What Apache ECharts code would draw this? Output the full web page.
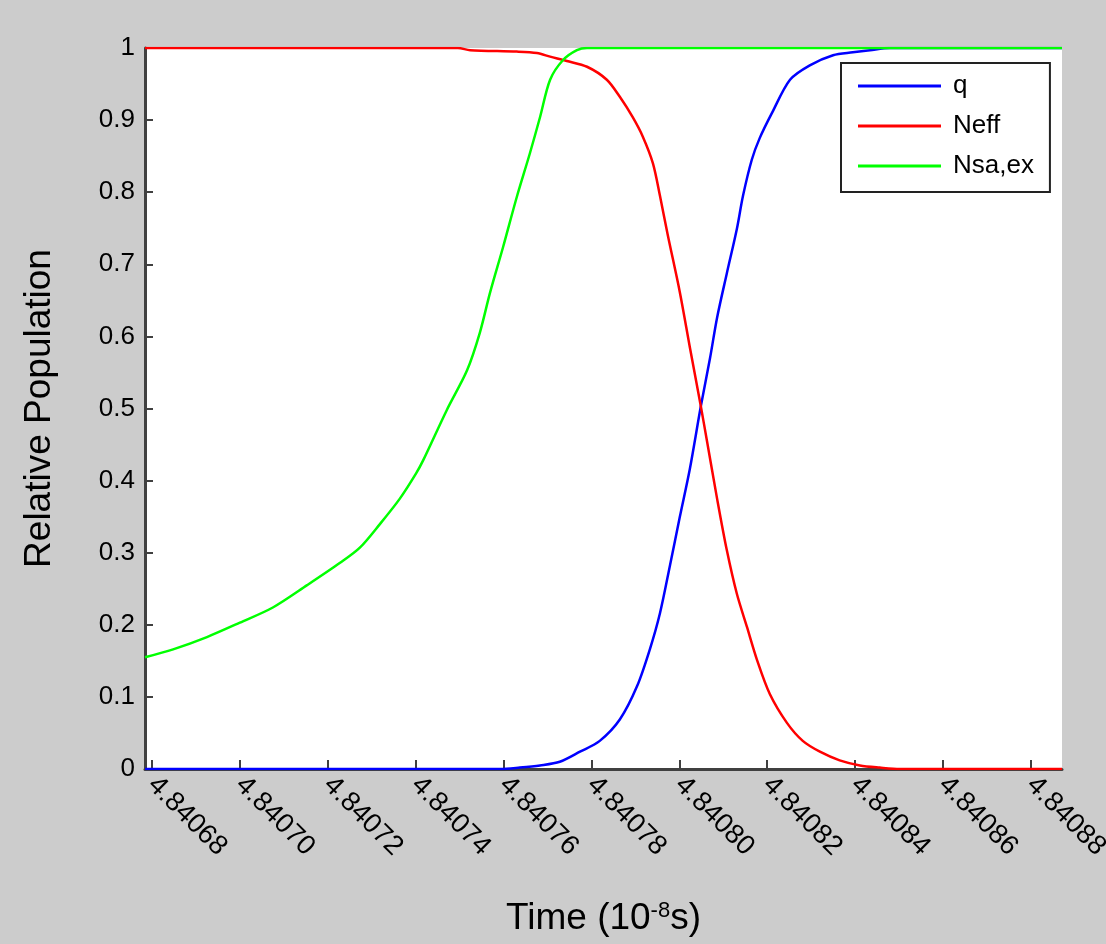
<!DOCTYPE html>
<html>
<head>
<meta charset="utf-8">
<script src="https://cdn.jsdelivr.net/npm/echarts@6/dist/echarts.min.js"></script>
<style>
html,body{margin:0;padding:0;background:#cccccc;}
#chart{width:1106px;height:944px;}
</style>
</head>
<body>
<div id="chart"></div>
<script>
// Time axis tick labels (units of 10^-8 s)
var timeTicks = [4.84068, 4.84070, 4.84072, 4.84074, 4.84076, 4.84078, 4.84080, 4.84082, 4.84084, 4.84086, 4.84088];
var timeMin = 4.8406784;
var timeMax = 4.8408871;

var seriesNames = ['q', 'Neff', 'Nsa,ex'];

// q (blue)
var tQ = [4.8406784, 4.8407592, 4.8407637, 4.8407683, 4.8407728, 4.8407774, 4.8407819, 4.8407865, 4.8407904, 4.8407933, 4.8407956, 4.8407979, 4.8408001, 4.8408024, 4.8408049, 4.8408070, 4.8408086, 4.8408108, 4.8408131, 4.8408145, 4.8408165, 4.8408183, 4.8408211, 4.8408252, 4.8408297, 4.8408350, 4.8408395, 4.8408434, 4.8408479, 4.8408871];
var vQ = [0, 0, 0.002, 0.005, 0.010, 0.024, 0.039, 0.069, 0.115, 0.166, 0.216, 0.283, 0.349, 0.416, 0.503, 0.570, 0.626, 0.687, 0.749, 0.795, 0.845, 0.875, 0.910, 0.956, 0.976, 0.990, 0.994, 0.997, 1.0, 1.0];

// Neff (red)
var tNeff = [4.8406784, 4.8407496, 4.8407524, 4.8407630, 4.8407676, 4.8407706, 4.8407744, 4.8407790, 4.8407835, 4.8407865, 4.8407894, 4.8407917, 4.8407940, 4.8407956, 4.8407974, 4.8408001, 4.8408024, 4.8408049, 4.8408063, 4.8408086, 4.8408108, 4.8408131, 4.8408154, 4.8408177, 4.8408206, 4.8408245, 4.8408281, 4.8408320, 4.8408365, 4.8408411, 4.8408456, 4.8408502, 4.8408871];
var vNeff = [1, 1, 0.997, 0.995, 0.993, 0.988, 0.982, 0.974, 0.956, 0.932, 0.904, 0.877, 0.840, 0.795, 0.740, 0.662, 0.585, 0.503, 0.455, 0.375, 0.304, 0.243, 0.197, 0.151, 0.104, 0.064, 0.039, 0.024, 0.012, 0.005, 0.002, 0, 0];

// Nsa,ex (green)
var tNsa = [4.8406784, 4.8406848, 4.8406925, 4.8407000, 4.8407075, 4.8407153, 4.8407228, 4.8407273, 4.8407319, 4.8407364, 4.8407401, 4.8407417, 4.8407471, 4.8407517, 4.8407546, 4.8407569, 4.8407599, 4.8407630, 4.8407660, 4.8407683, 4.8407706, 4.8407735, 4.8407767, 4.8407790, 4.8408871];
var vNsa = [0.155, 0.166, 0.183, 0.203, 0.224, 0.255, 0.286, 0.307, 0.340, 0.375, 0.410, 0.428, 0.498, 0.553, 0.605, 0.660, 0.724, 0.793, 0.854, 0.904, 0.956, 0.983, 0.997, 1.0, 1.0];

function pairs(ts, vs) { return ts.map(function (t, i) { return [t, vs[i]]; }); }

var FONT = 'Liberation Sans, Arial, Helvetica, sans-serif';
var chart = echarts.init(document.getElementById('chart'), null, {renderer: 'canvas'});

var lineSeries = function (name, color, data) {
  return {
    name: name, type: 'line', data: data, showSymbol: false, symbol: 'none',
    smooth: 0.3, animation: false,
    lineStyle: {color: color, width: 2.5, join: 'round'}, itemStyle: {color: color}
  };
};

chart.setOption({
  backgroundColor: '#cccccc',
  animation: false,
  grid: {left: 145, top: 48, width: 917, height: 721, show: true, backgroundColor: '#ffffff', borderWidth: 0, containLabel: false, outerBoundsMode: 'none'},
  legend: {
    orient: 'vertical', left: 841, top: 63,
    data: seriesNames,
    icon: 'rect', itemWidth: 83, itemHeight: 3, itemGap: 14,
    padding: [10, 16, 13, 17],
    backgroundColor: '#ffffff', borderColor: '#222222', borderWidth: 2,
    textStyle: {fontFamily: FONT, fontSize: 26, color: '#000', lineHeight: 26, padding: [0, 0, 0, 7]},
    selectedMode: false
  },
  xAxis: {
    type: 'value', min: timeMin, max: timeMax,
    name: 'Time (10{sup|-8}s)', nameLocation: 'middle', nameGap: 131,
    nameTextStyle: {fontFamily: FONT, fontSize: 37, color: '#000',
      rich: {sup: {fontFamily: FONT, fontSize: 22, color: '#000', verticalAlign: 'top', padding: [0, 0, 16, 0]}}},
    axisLine: {show: true, onZero: false, lineStyle: {color: '#404040', width: 3}},
    axisTick: {show: true, inside: true, length: 9, customValues: timeTicks, lineStyle: {color: '#404040', width: 2}},
    axisLabel: {show: true, rotate: -45, margin: 12, fontFamily: FONT, fontSize: 27.5, color: '#000',
      customValues: timeTicks, formatter: function (v) { return v.toFixed(5); }},
    splitLine: {show: false}
  },
  yAxis: {
    type: 'value', min: 0, max: 1, interval: 0.1,
    name: 'Relative Population', nameLocation: 'middle', nameGap: 87,
    nameTextStyle: {fontFamily: FONT, fontSize: 37, color: '#000'},
    axisLine: {show: true, lineStyle: {color: '#404040', width: 3}},
    axisTick: {show: true, inside: true, length: 8, lineStyle: {color: '#404040', width: 2}},
    axisLabel: {margin: 10, fontFamily: FONT, fontSize: 26, color: '#000',
      formatter: function (v) { return String(Math.round(v * 10) / 10); }},
    splitLine: {show: false}
  },
  series: [
    lineSeries(seriesNames[0], '#0000ff', pairs(tQ, vQ)),
    lineSeries(seriesNames[1], '#ff0000', pairs(tNeff, vNeff)),
    lineSeries(seriesNames[2], '#00ff00', pairs(tNsa, vNsa))
  ]
});
</script>
</body>
</html>
